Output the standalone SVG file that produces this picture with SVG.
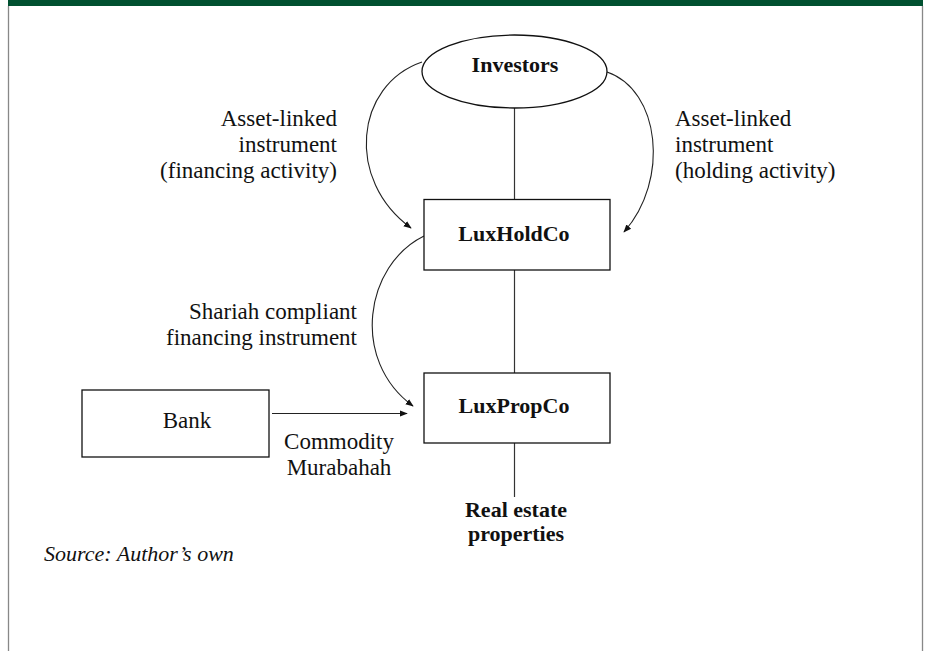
<svg xmlns="http://www.w3.org/2000/svg" width="926" height="651" viewBox="0 0 926 651">
<style>
.t{font-family:"Liberation Serif","Times New Roman",serif;font-size:23px;fill:#111}
.b{font-family:"Liberation Serif","Times New Roman",serif;font-size:22px;font-weight:bold;fill:#111}
.i{font-family:"Liberation Serif","Times New Roman",serif;font-size:22px;font-style:italic;fill:#111}
.box{fill:#fff;stroke:#111;stroke-width:1.3}
.ln{fill:none;stroke:#333;stroke-width:1.2}
.arr{fill:none;stroke:#222;stroke-width:1.1;marker-end:url(#ah)}
.frame{stroke:#888;stroke-width:1.3}
</style>
<defs>
<marker id="ah" viewBox="0 0 10 10" refX="9" refY="5" markerWidth="8" markerHeight="8" markerUnits="userSpaceOnUse" orient="auto">
<path d="M0,1 L10,5 L0,9 z" fill="#111"/>
</marker>
</defs>
<rect x="0" y="0" width="926" height="651" fill="#fff"/>
<rect x="8" y="0" width="915" height="6" fill="#005030"/>
<line class="frame" x1="8.5" y1="6" x2="8.5" y2="651"/>
<line class="frame" x1="922.5" y1="6" x2="922.5" y2="651"/>

<g id="connectors">
<line class="ln" x1="514.5" y1="108" x2="514.5" y2="199"/>
<line class="ln" x1="514.5" y1="270" x2="514.5" y2="373"/>
<line class="ln" x1="514.5" y1="443" x2="514.5" y2="497"/>
<path class="arr" d="M422,62 C355,85 345,180 411,228"/>
<path class="arr" d="M607,72 C660,90 670,180 624,232"/>
<path class="arr" d="M424,236 C365,265 350,360 413,406"/>
<line class="arr" x1="272" y1="413.5" x2="407" y2="413.5"/>
</g>

<g id="label-financing">
<text class="t" text-anchor="end" x="337" y="126">Asset-linked</text>
<text class="t" text-anchor="end" x="337" y="152">instrument</text>
<text class="t" text-anchor="end" x="337" y="178">(financing activity)</text>
</g>
<g id="label-holding">
<text class="t" x="675" y="126">Asset-linked</text>
<text class="t" x="675" y="152">instrument</text>
<text class="t" x="675" y="178">(holding activity)</text>
</g>
<g id="label-shariah">
<text class="t" text-anchor="end" x="357" y="319">Shariah compliant</text>
<text class="t" text-anchor="end" x="357" y="345">financing instrument</text>
</g>
<g id="label-murabahah">
<text class="t" text-anchor="middle" x="339" y="449">Commodity</text>
<text class="t" text-anchor="middle" x="339" y="475">Murabahah</text>
</g>

<g id="investors">
<ellipse class="box" cx="514.5" cy="71.5" rx="92.5" ry="36.5"/>
<text class="b" text-anchor="middle" x="515" y="72">Investors</text>
</g>
<g id="luxholdco">
<rect class="box" x="424" y="199.5" width="186" height="70.5"/>
<text class="b" text-anchor="middle" x="514" y="241">LuxHoldCo</text>
</g>
<g id="luxpropco">
<rect class="box" x="424" y="373" width="186" height="70"/>
<text class="b" text-anchor="middle" x="514" y="413">LuxPropCo</text>
</g>
<g id="bank">
<rect class="box" x="82" y="390" width="187" height="67"/>
<text class="t" text-anchor="middle" x="187" y="428">Bank</text>
</g>
<g id="real-estate">
<text class="b" text-anchor="middle" x="516" y="517">Real estate</text>
<text class="b" text-anchor="middle" x="516" y="541">properties</text>
</g>
<g id="source">
<text class="i" x="44" y="561">Source: Author’s own</text>
</g>
</svg>
